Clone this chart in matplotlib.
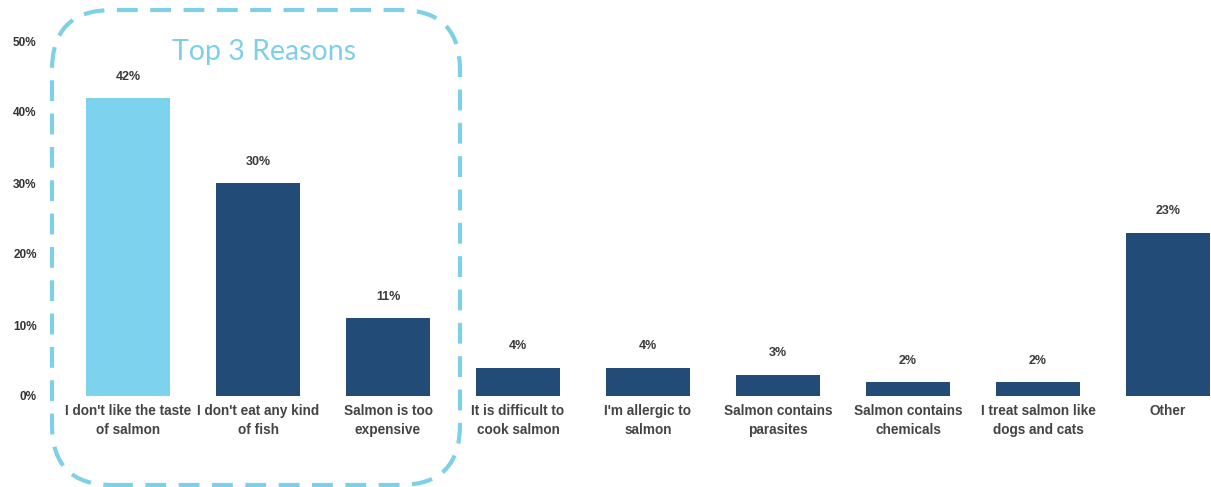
import matplotlib
matplotlib.use("Agg")
import matplotlib.pyplot as plt
from matplotlib.patches import FancyBboxPatch

categories = ["I don't like the taste\nof salmon", "I don't eat any kind\nof fish",
              "Salmon is too\nexpensive", "It is difficult to\ncook salmon",
              "I'm allergic to\nsalmon", "Salmon contains\nparasites",
              "Salmon contains\nchemicals", "I treat salmon like\ndogs and cats", "Other"]
values = [42, 30, 11, 4, 4, 3, 2, 2, 23]
yticks = [0, 10, 20, 30, 40, 50]

light = "#7DD3EE"
dark = "#234B77"
colors = [light] + [dark] * (len(values) - 1)

W, H = 1211, 487
fig = plt.figure(figsize=(W / 100, H / 100), dpi=100)
ax_left = 45 / W
ax_bottom = (H - 396) / H
ax = fig.add_axes([ax_left, ax_bottom, 1 - ax_left, 1 - ax_bottom])

x = list(range(len(values)))
ax.bar(x, values, width=84 / 130, color=colors, zorder=2)
# pixel mapping: bar center i -> 128 + 130 i ; axes left at 45px
ax.set_xlim((45 - 128) / 130, (W - 128) / 130)
ax.set_ylim(0, 396 / 7.1)

for xi, v in zip(x, values):
    ax.annotate(f"{v}%", (xi, v), xytext=(0, 11), textcoords="offset points",
                ha="center", va="bottom", fontsize=9, fontweight="bold",
                color="#3a3a3a", family="Liberation Sans")

ax.set_xticks(x)
ax.set_xticklabels(categories, fontsize=9.8, fontweight="bold", color="#444444",
                   family="Liberation Sans", linespacing=1.4)
ax.set_yticks(yticks)
ax.set_yticklabels([f"{t}%" for t in yticks], fontsize=8.5, fontweight="bold",
                   color="#333333", family="Liberation Sans")
ax.tick_params(axis="both", length=0)
ax.tick_params(axis="x", pad=6)
ax.tick_params(axis="y", pad=6)
for s in ax.spines.values():
    s.set_visible(False)

# dashed rounded box around top 3
bx0, by0, bx1, by1 = 52, 10, 460, 485  # pixels from top-left
box = FancyBboxPatch((bx0 / W, (H - by1) / H), (bx1 - bx0) / W, (by1 - by0) / H,
                     boxstyle="round,pad=0,rounding_size=%f" % (60 / W),
                     transform=fig.transFigure, fill=False, edgecolor="#7ECFE8",
                     linewidth=3, linestyle=(0, (5, 3)), clip_on=False,
                     mutation_aspect=W / H)
fig.patches.append(box)

fig.text(264 / W, 1 - 52 / H, "Top 3 Reasons", ha="center", va="center",
         fontsize=20.5, color="#7ECFE8", family="Lato")

fig.savefig("out.png", dpi=100)
